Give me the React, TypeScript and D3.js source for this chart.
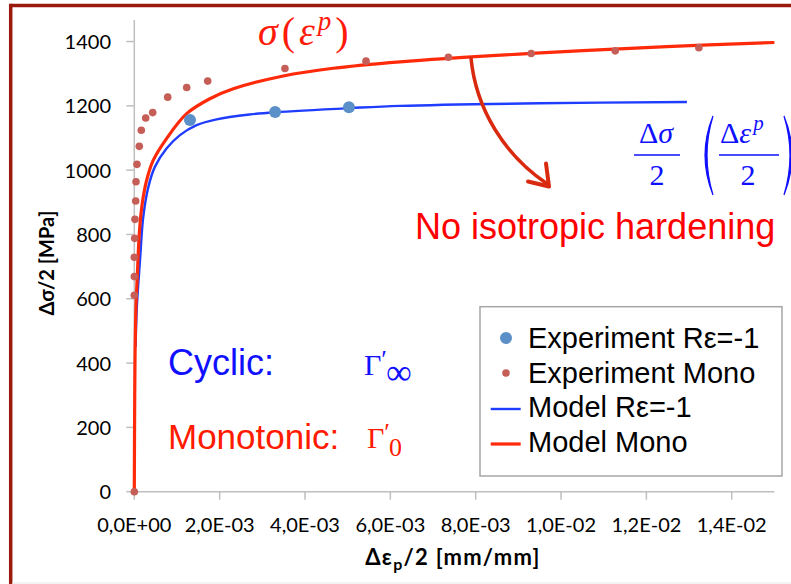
import React from "react";
import * as d3 from "d3";

// ---- data ----
const xTicks = [0, 0.002, 0.004, 0.006, 0.008, 0.01, 0.012, 0.014];
const xTickLabels = ["0,0E+00", "2,0E-03", "4,0E-03", "6,0E-03", "8,0E-03", "1,0E-02", "1,2E-02", "1,4E-02"];
const yTicks = [0, 200, 400, 600, 800, 1000, 1200, 1400];

const expCyclicX = [0.001305, 0.0033, 0.00503];
const expCyclicY = [1156, 1181, 1196];

const expMonoX = [0, 0, 0, 0, 0.00001, 0.000016, 0.000033, 0.00004, 0.000063, 0.000117, 0.000164, 0.000267, 0.000431, 0.000783, 0.001228, 0.00172, 0.00353, 0.00543, 0.00736, 0.0093, 0.01127, 0.01323];
const expMonoY = [0, 611, 669, 729, 788, 847, 904, 964, 1018, 1074, 1124, 1162, 1179, 1227, 1257, 1277, 1316, 1339, 1351, 1363, 1371, 1381];

const modelCyclicX = [0.00003, 0.00006, 0.000134, 0.00021, 0.00033, 0.000485, 0.00076, 0.00107, 0.00146, 0.00193, 0.0027, 0.0033, 0.00506, 0.00623, 0.0095, 0.01295];
const modelCyclicY = [450, 575, 720, 855, 948, 1011, 1068, 1109, 1140, 1158, 1173, 1180, 1193, 1200, 1208, 1212];

const modelMonoX = [0, 0.00001, 0.00002, 0.00004, 0.00007, 0.000117, 0.000187, 0.00029, 0.000445, 0.00076, 0.00122, 0.00177, 0.00232, 0.00349, 0.00466, 0.00623, 0.0093, 0.01248, 0.015];
const modelMonoY = [0, 300, 450, 580, 669, 803, 897, 969, 1031, 1099, 1175, 1222, 1253, 1293, 1317, 1337, 1363, 1384, 1397];

const legendLabels = ["Experiment R\u03b5=-1", "Experiment Mono", "Model R\u03b5=-1", "Model Mono"];

const W = 791;
const H = 584;

export default function App() {
  const x = d3.scaleLinear().domain([0, 0.015]).range([134.3, 774.4]);
  const y = d3.scaleLinear().domain([0, 1467]).range([491.7, 20]);

  const line = d3
    .line<[number, number]>()
    .x((d) => x(d[0]))
    .y((d) => y(d[1]))
    .curve(d3.curveCatmullRom.alpha(0.5));

  const monoPts: [number, number][] = modelMonoX.map((v, i) => [v, modelMonoY[i]]);
  const cycPts: [number, number][] = modelCyclicX.map((v, i) => [v, modelCyclicY[i]]);

  const tickFont = "Lato, 'Open Sans', sans-serif";
  const arial = "'Liberation Sans', Arial, sans-serif";
  const serif = "'Liberation Serif', 'DejaVu Serif', serif";

  const blue = "#1f3dff";
  const red = "#ff2a0a";

  return (
    <svg
      width={W}
      height={H}
      style={{ position: "absolute", left: 0, top: 0, background: "#fff" }}
      xmlns="http://www.w3.org/2000/svg"
    >
      <rect x={0} y={0} width={W} height={H} fill="#fff" />
      {/* frame */}
      <line x1={10.7} y1={5.5} x2={W} y2={5.5} stroke="#9a1a0e" strokeWidth={3.5} />
      <line x1={10.7} y1={3.8} x2={10.7} y2={H} stroke="#9a1a0e" strokeWidth={3.5} />
      <line x1={12} y1={583} x2={W} y2={583} stroke="#e6e6e6" strokeWidth={1} />

      {/* axes */}
      <line x1={x(0)} y1={y(1467)} x2={x(0)} y2={y(0)} stroke="#bfbfbf" strokeWidth={1.5} />
      <line x1={x(0)} y1={y(0)} x2={x(0.015)} y2={y(0)} stroke="#bfbfbf" strokeWidth={1.5} />
      {yTicks.map((t) => (
        <g key={"y" + t}>
          <line x1={x(0) - 8} x2={x(0)} y1={y(t)} y2={y(t)} stroke="#bfbfbf" strokeWidth={1.5} />
          <text x={111} y={y(t) + 7.5} textAnchor="end" fontFamily={tickFont} fontSize={20} fill="#000">
            {t}
          </text>
        </g>
      ))}
      {xTicks.map((t, i) => (
        <g key={"x" + t}>
          <line x1={x(t)} x2={x(t)} y1={y(0)} y2={y(0) + 8} stroke="#bfbfbf" strokeWidth={1.5} />
          <text x={x(t)} y={531.5} textAnchor="middle" fontFamily={tickFont} fontSize={20} fill="#000">
            {xTickLabels[i]}
          </text>
        </g>
      ))}

      {/* axis titles */}
      <text
        transform="translate(54,263) rotate(-90)"
        textAnchor="middle"
        fontFamily={tickFont}
        fontWeight={700}
        fontSize={20}
        fill="#000"
      >
        {"\u0394\u03c3/2 [MPa]"}
      </text>
      <text x={453} y={565} textAnchor="middle" fontFamily={tickFont} fontWeight={700} fontSize={22} letterSpacing={1.3} fill="#000">
        {"\u0394\u03b5"}
        <tspan fontSize={16} dy={5}>p</tspan>
        <tspan dy={-5}>/2 [mm/mm]</tspan>
      </text>

      {/* model lines */}
      <path d={line(cycPts) || ""} fill="none" stroke={blue} strokeWidth={2.4} strokeLinejoin="round" />
      <path d={line(monoPts) || ""} fill="none" stroke={red} strokeWidth={3.2} strokeLinejoin="round" />

      {/* experiment points */}
      {expMonoY.map((v, i) => (
        <circle key={"m" + i} cx={x(expMonoX[i])} cy={y(v)} r={3.8} fill="#c65e58" />
      ))}
      {expCyclicY.map((v, i) => (
        <circle key={"c" + i} cx={x(expCyclicX[i])} cy={y(v)} r={6} fill="#5b8fc8" />
      ))}

      {/* legend */}
      <rect x={480} y={306.7} width={302} height={169.3} fill="#fff" stroke="#a6a6a6" strokeWidth={1.5} />
      <circle cx={506} cy={338} r={6} fill="#5b8fc8" />
      <circle cx={506} cy={373} r={3.8} fill="#c65e58" />
      <line x1={490.7} x2={520.7} y1={409} y2={409} stroke={blue} strokeWidth={2.4} />
      <line x1={490.7} x2={520.7} y1={444} y2={444} stroke={red} strokeWidth={3.2} />
      {legendLabels.map((l, i) => (
        <text key={l} x={528} y={348 + i * 34.7} fontFamily={arial} fontSize={29} fill="#000">
          {l}
        </text>
      ))}

      {/* annotations */}
      <text x={258} y={45} fontFamily={serif} fontSize={40} fill="#ff1a0a">
        <tspan fontStyle="italic">{"\u03c3"}</tspan>
        <tspan dx={4}>(</tspan>
        <tspan fontStyle="italic" dx={4}>{"\u03b5"}</tspan>
        <tspan fontStyle="italic" fontSize={27} dy={-15} dx={3}>p</tspan>
        <tspan dy={15} dx={4}>)</tspan>
      </text>

      <g fill="#1010ff" fontFamily={serif}>
        <text x={656} y={143} fontSize={30} textAnchor="middle">
          {"\u0394"}
          <tspan fontStyle="italic">{"\u03c3"}</tspan>
        </text>
        <line x1={634} x2={680} y1={155} y2={155} stroke="#1010ff" strokeWidth={1.5} />
        <text x={657} y={185} fontSize={30} textAnchor="middle">2</text>
        <path d="M713,116 Q697,155 713,195 Q701,155 713,116 Z" stroke="#1010ff" strokeWidth={1.2} />
        <text x={720} y={143} fontSize={30}>
          {"\u0394"}
          <tspan fontStyle="italic">{"\u03b5"}</tspan>
          <tspan fontStyle="italic" fontSize={21} dy={-13} dx={2}>p</tspan>
        </text>
        <line x1={719} x2={779} y1={155} y2={155} stroke="#1010ff" strokeWidth={1.5} />
        <text x={748} y={185} fontSize={30} textAnchor="middle">2</text>
        <path d="M784,116 Q800,155 784,195 Q796,155 784,116 Z" stroke="#1010ff" strokeWidth={1.2} />
      </g>

      <text x={415} y={239} fontFamily={arial} fontSize={36} fill="#ff0000">
        No isotropic hardening
      </text>

      <text x={168} y={375} fontFamily={arial} fontSize={36} fill="#1010ff">Cyclic:</text>
      <text x={168} y={449} fontFamily={arial} fontSize={35} fill="#ff1a00">Monotonic:</text>

      <text x={364} y={375} fontFamily={serif} fontSize={30} fill="#1010ff">
        {"\u0393"}
        <tspan fontSize={26} dy={-7}>{"\u2032"}</tspan>
        <tspan fontSize={36} dx={-1} dy={16}>{"\u221e"}</tspan>
      </text>
      <text x={367} y={448} fontFamily={serif} fontSize={30} fill="#ff1a00">
        {"\u0393"}
        <tspan fontSize={26} dy={-7}>{"\u2032"}</tspan>
        <tspan fontSize={26} dx={-1} dy={15}>0</tspan>
      </text>

      {/* arrow */}
      <path d="M471,58 C476,110 505,155 546,183" fill="none" stroke="#d9290f" strokeWidth={3.5} strokeLinecap="round" />
      <polyline points="528,181.5 549,186.5 546,163.5" fill="none" stroke="#d9290f" strokeWidth={4} strokeLinejoin="round" strokeLinecap="round" />
    </svg>
  );
}
